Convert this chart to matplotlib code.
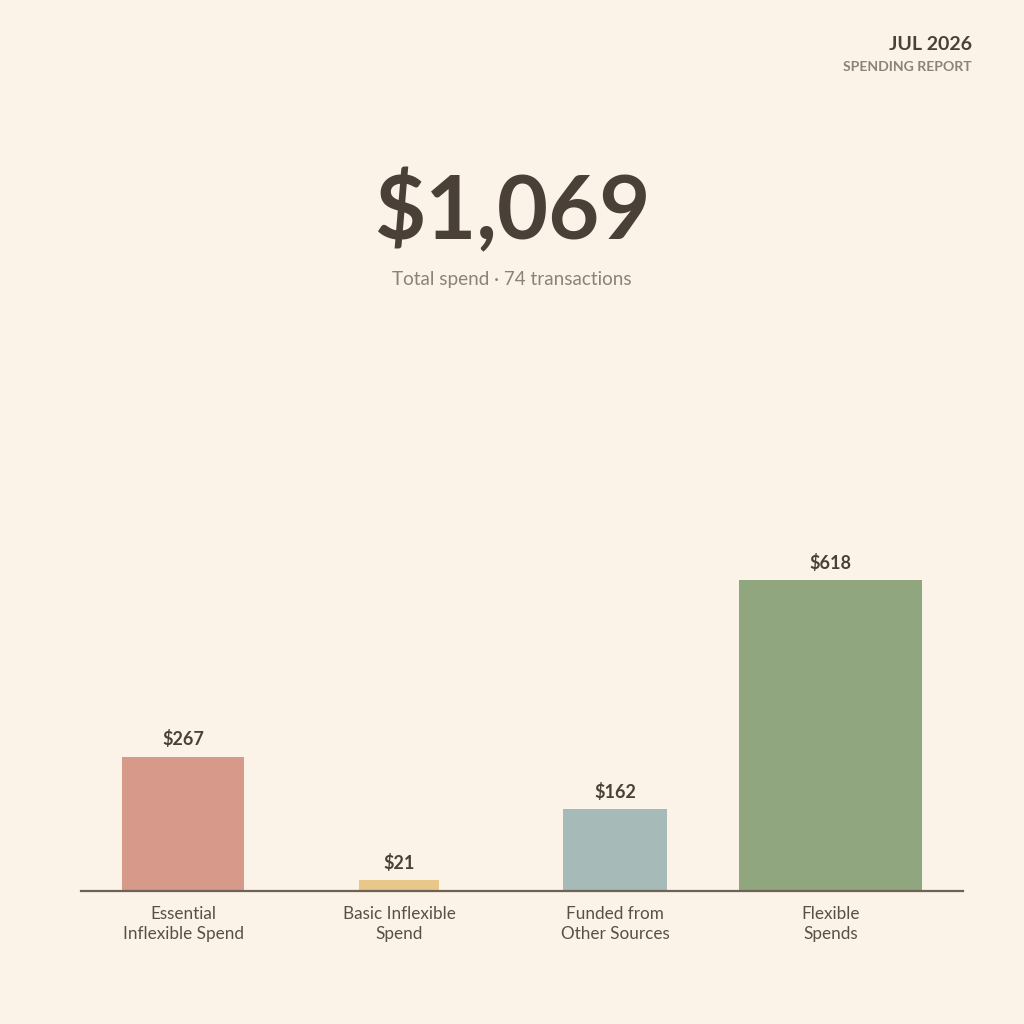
import matplotlib
matplotlib.use("Agg")
import matplotlib.pyplot as plt

categories = ["Essential\nInflexible Spend", "Basic Inflexible\nSpend", "Funded from\nOther Sources", "Flexible\nSpends"]
values = [267, 21, 162, 618]
value_labels = ["$267", "$21", "$162", "$618"]
bar_widths = [0.565, 0.368, 0.479, 0.849]
colors = ["#d6998a", "#e8c78a", "#a6bab7", "#90a67e"]
total_label = "$1,069"
subtitle = "Total spend \u00b7 74 transactions"
period = "JUL 2026"
report = "SPENDING REPORT"

BG = "#fbf3e8"
DARK = "#4a4037"
GREY = "#8c8276"
FONT = ["Lato", "DejaVu Sans"]
plt.rcParams["font.family"] = FONT

fig = plt.figure(figsize=(10.24, 10.24), dpi=100, facecolor=BG)
W = 1024.0
ax_left, ax_right = 81 / W, 963 / W
ax_bottom = 1 - 891 / W
ax_top = 1 - 540 / W
ax = fig.add_axes([ax_left, ax_bottom, ax_right - ax_left, ax_top - ax_bottom])
ax.set_facecolor(BG)

x = list(range(len(values)))
ax.bar(x, values, width=bar_widths, color=colors, zorder=2)
ax.set_xlim(-0.474, 3.613)
ax.set_ylim(0, 351 / 0.5032)

for xi, v, lab in zip(x, values, value_labels):
    ax.annotate(lab, (xi, v), xytext=(0, 6), textcoords="offset points",
                ha="center", va="bottom", fontsize=13, fontweight="bold", color=DARK)

ax.set_xticks(x)
ax.set_xticklabels(categories, fontsize=12.3, color="#5a4f45", linespacing=1.25)
ax.tick_params(axis="x", length=0, pad=11)
ax.set_yticks([])
for s in ["top", "right", "left"]:
    ax.spines[s].set_visible(False)
ax.spines["bottom"].set_color("#6e6156")
ax.spines["bottom"].set_linewidth(1.6)

fig.text(0.5, 1 - 212 / W, total_label, ha="center", va="center", fontsize=63.5,
         fontweight="bold", color=DARK)
fig.text(0.5, 1 - 279 / W, subtitle, ha="center", va="center", fontsize=13.6, color=GREY)
fig.text(972 / W, 1 - 44 / W, period, ha="right", va="center", fontsize=14,
         fontweight="bold", color=DARK)
fig.text(972 / W, 1 - 67 / W, report, ha="right", va="center", fontsize=10.1,
         fontweight="bold", color=GREY)

fig.savefig("out.png", dpi=100, facecolor=BG)
